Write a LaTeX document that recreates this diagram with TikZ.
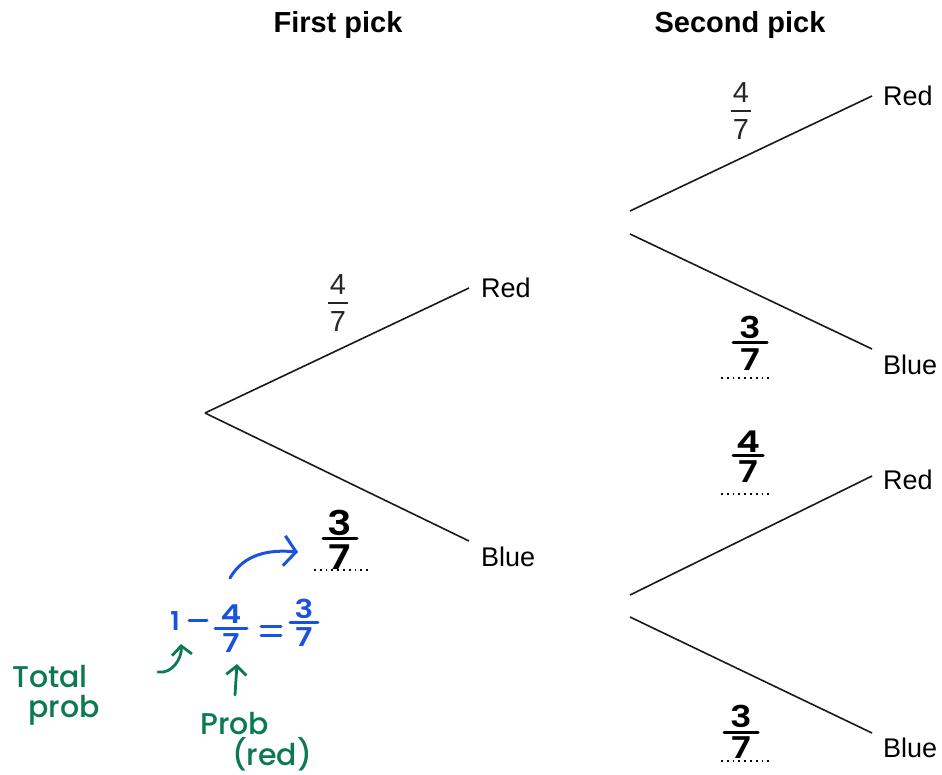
\documentclass[tikz,border=0pt]{standalone}
\usepackage{fontspec}
\setmainfont{Liberation Sans}
\newfontfamily\hand{Poppins}[UprightFont=*-Medium,BoldFont=*-SemiBold]
\usetikzlibrary{arrows.meta}
\definecolor{penblue}{HTML}{1A52E0}
\definecolor{pengreen}{HTML}{0B7A4F}
% #1 name, #2 x, #3 bar y, #4 num, #5 den, #6 style prefix, #7 half bar, #8 gap up, #9 gap down
\newcommand\fracnode[9]{%
  \node[#6, anchor=base] (#1n) at (#2,#3-#8) {#4};
  \coordinate (#1l) at (#2-#7,#3);
  \coordinate (#1r) at (#2+#7,#3);
  \draw[#6bar] (#1l) -- (#1r);
  \node[#6, anchor=north] (#1d) at (#2,#3+#9) {#5};}
\newcommand\hx[1]{\scalebox{1.2}[1]{#1}}
\begin{document}
\begin{tikzpicture}[x=1pt,y=-1pt,
  branch/.style={line width=1.6pt, black!90},
  lbl/.style={font=\fontsize{27}{30}\selectfont, anchor=west, inner sep=0pt},
  ttl/.style={font=\fontsize{29}{32}\selectfont\bfseries, inner sep=0pt},
  tf/.style={font=\fontsize{29}{30}\selectfont, inner sep=0pt, text=black!85},
  tfbar/.style={line width=1.6pt, black!85},
  hf/.style={font=\fontsize{30}{30}\selectfont\hand\bfseries, inner sep=0pt},
  hfbar/.style={line width=3pt, line cap=round},
  hg/.style={font=\fontsize{34}{34}\selectfont\hand\bfseries, inner sep=0pt},
  hgbar/.style={line width=3pt, line cap=round},
  bf/.style={font=\fontsize{26}{26}\selectfont\hand\bfseries, text=penblue, inner sep=0pt},
  bfbar/.style={line width=3pt, line cap=round, penblue},
  dots/.style={line width=1.8pt, dash pattern=on 1.8pt off 4pt},
  greenhand/.style={font=\fontsize{30}{30}\selectfont\hand, text=pengreen, inner sep=0pt, anchor=base west},
  garrow/.style={pengreen, line width=2.8pt, line cap=round, -{Straight Barb[length=9pt,width=20pt,line width=2.8pt]}},
  barrow/.style={penblue, line width=3pt, line cap=round, -{Straight Barb[length=12pt,width=30pt,line width=3pt]}}]
\useasboundingbox (0,0) rectangle (942,775);
% titles
\node[ttl] (t1) at (338,25) {First pick};
\node[ttl] (t2) at (740,25) {Second pick};
% first level
\coordinate (root) at (205,413);
\coordinate (r1) at (469,288);
\coordinate (b1) at (469,541);
\draw[branch] (root) -- (r1);
\draw[branch] (root) -- (b1);
\node[lbl] (R1) at (481,288) {Red};
\node[lbl] (B1) at (481,557) {Blue};
\fracnode{fa}{338}{303}{4}{7}{tf}{10}{8}{8}
\fracnode{ha}{340}{538}{\hx{3}}{\hx{7}}{hg}{17}{3}{7}
\coordinate (d1a) at (314,570); \coordinate (d1b) at (368,570);
\draw[dots] (d1a) -- (d1b);
% second level upper
\coordinate (u0a) at (630,211);
\coordinate (u0b) at (630,234);
\coordinate (ur) at (872,96);
\coordinate (ub) at (872,349);
\draw[branch] (u0a) -- (ur);
\draw[branch] (u0b) -- (ub);
\node[lbl] (R2) at (883,96) {Red};
\node[lbl] (B2) at (883,365) {Blue};
\fracnode{fb}{741}{111}{4}{7}{tf}{10}{8}{8}
\fracnode{hb}{750}{343}{\hx{3}}{\hx{7}}{hf}{17}{5}{5}
\coordinate (d2a) at (721,378); \coordinate (d2b) at (772,378);
\draw[dots] (d2a) -- (d2b);
\fracnode{hc}{748}{455}{\hx{4}}{\hx{7}}{hf}{15}{3}{5}
\coordinate (d3a) at (721,494); \coordinate (d3b) at (772,494);
\draw[dots] (d3a) -- (d3b);
% second level lower
\coordinate (l0a) at (630,595);
\coordinate (l0b) at (630,617);
\coordinate (lr) at (872,476);
\coordinate (lb) at (872,733);
\draw[branch] (l0a) -- (lr);
\draw[branch] (l0b) -- (lb);
\node[lbl] (R3) at (883,480) {Red};
\node[lbl] (B3) at (883,748) {Blue};
\fracnode{hd}{741}{732}{\hx{3}}{\hx{7}}{hf}{17}{5}{4}
\coordinate (d4a) at (721,761); \coordinate (d4b) at (772,761);
\draw[dots] (d4a) -- (d4b);
% blue annotation
\node[bf, anchor=base] (one) at (175,630) {1};
\coordinate (m0) at (189,620); \coordinate (m1) at (207,620);
\draw[bfbar] (m0) -- (m1);
\fracnode{bfa}{231}{628}{\hx{4}}{\hx{7}}{bf}{16}{5}{5}
\coordinate (e0) at (261,626); \coordinate (e1) at (281,626);
\coordinate (e2) at (261,635); \coordinate (e3) at (281,635);
\draw[bfbar] (e0) -- (e1);
\draw[bfbar] (e2) -- (e3);
\fracnode{bfb}{304}{622}{\hx{3}}{\hx{7}}{bf}{14}{4}{5}
\coordinate (ba0) at (230,578);
\coordinate (ba1) at (298,552);
\draw[barrow] (ba0) to[out=60, in=175] (ba1);
% green annotations
\node[greenhand] (tot) at (12,687) {Total};
\node[greenhand] (prb) at (28,717) {prob};
\coordinate (ga0) at (158,672);
\coordinate (ga1) at (181,644);
\draw[garrow] (ga0) to[out=-10, in=-85] (ga1);
\node[greenhand] (prb2) at (200,734) {Prob};
\node[greenhand] (red) at (232,765) {(red)};
\coordinate (gb0) at (235,695);
\coordinate (gb1) at (237,664);
\draw[garrow] (gb0) -- (gb1);
\end{tikzpicture}
\end{document}
